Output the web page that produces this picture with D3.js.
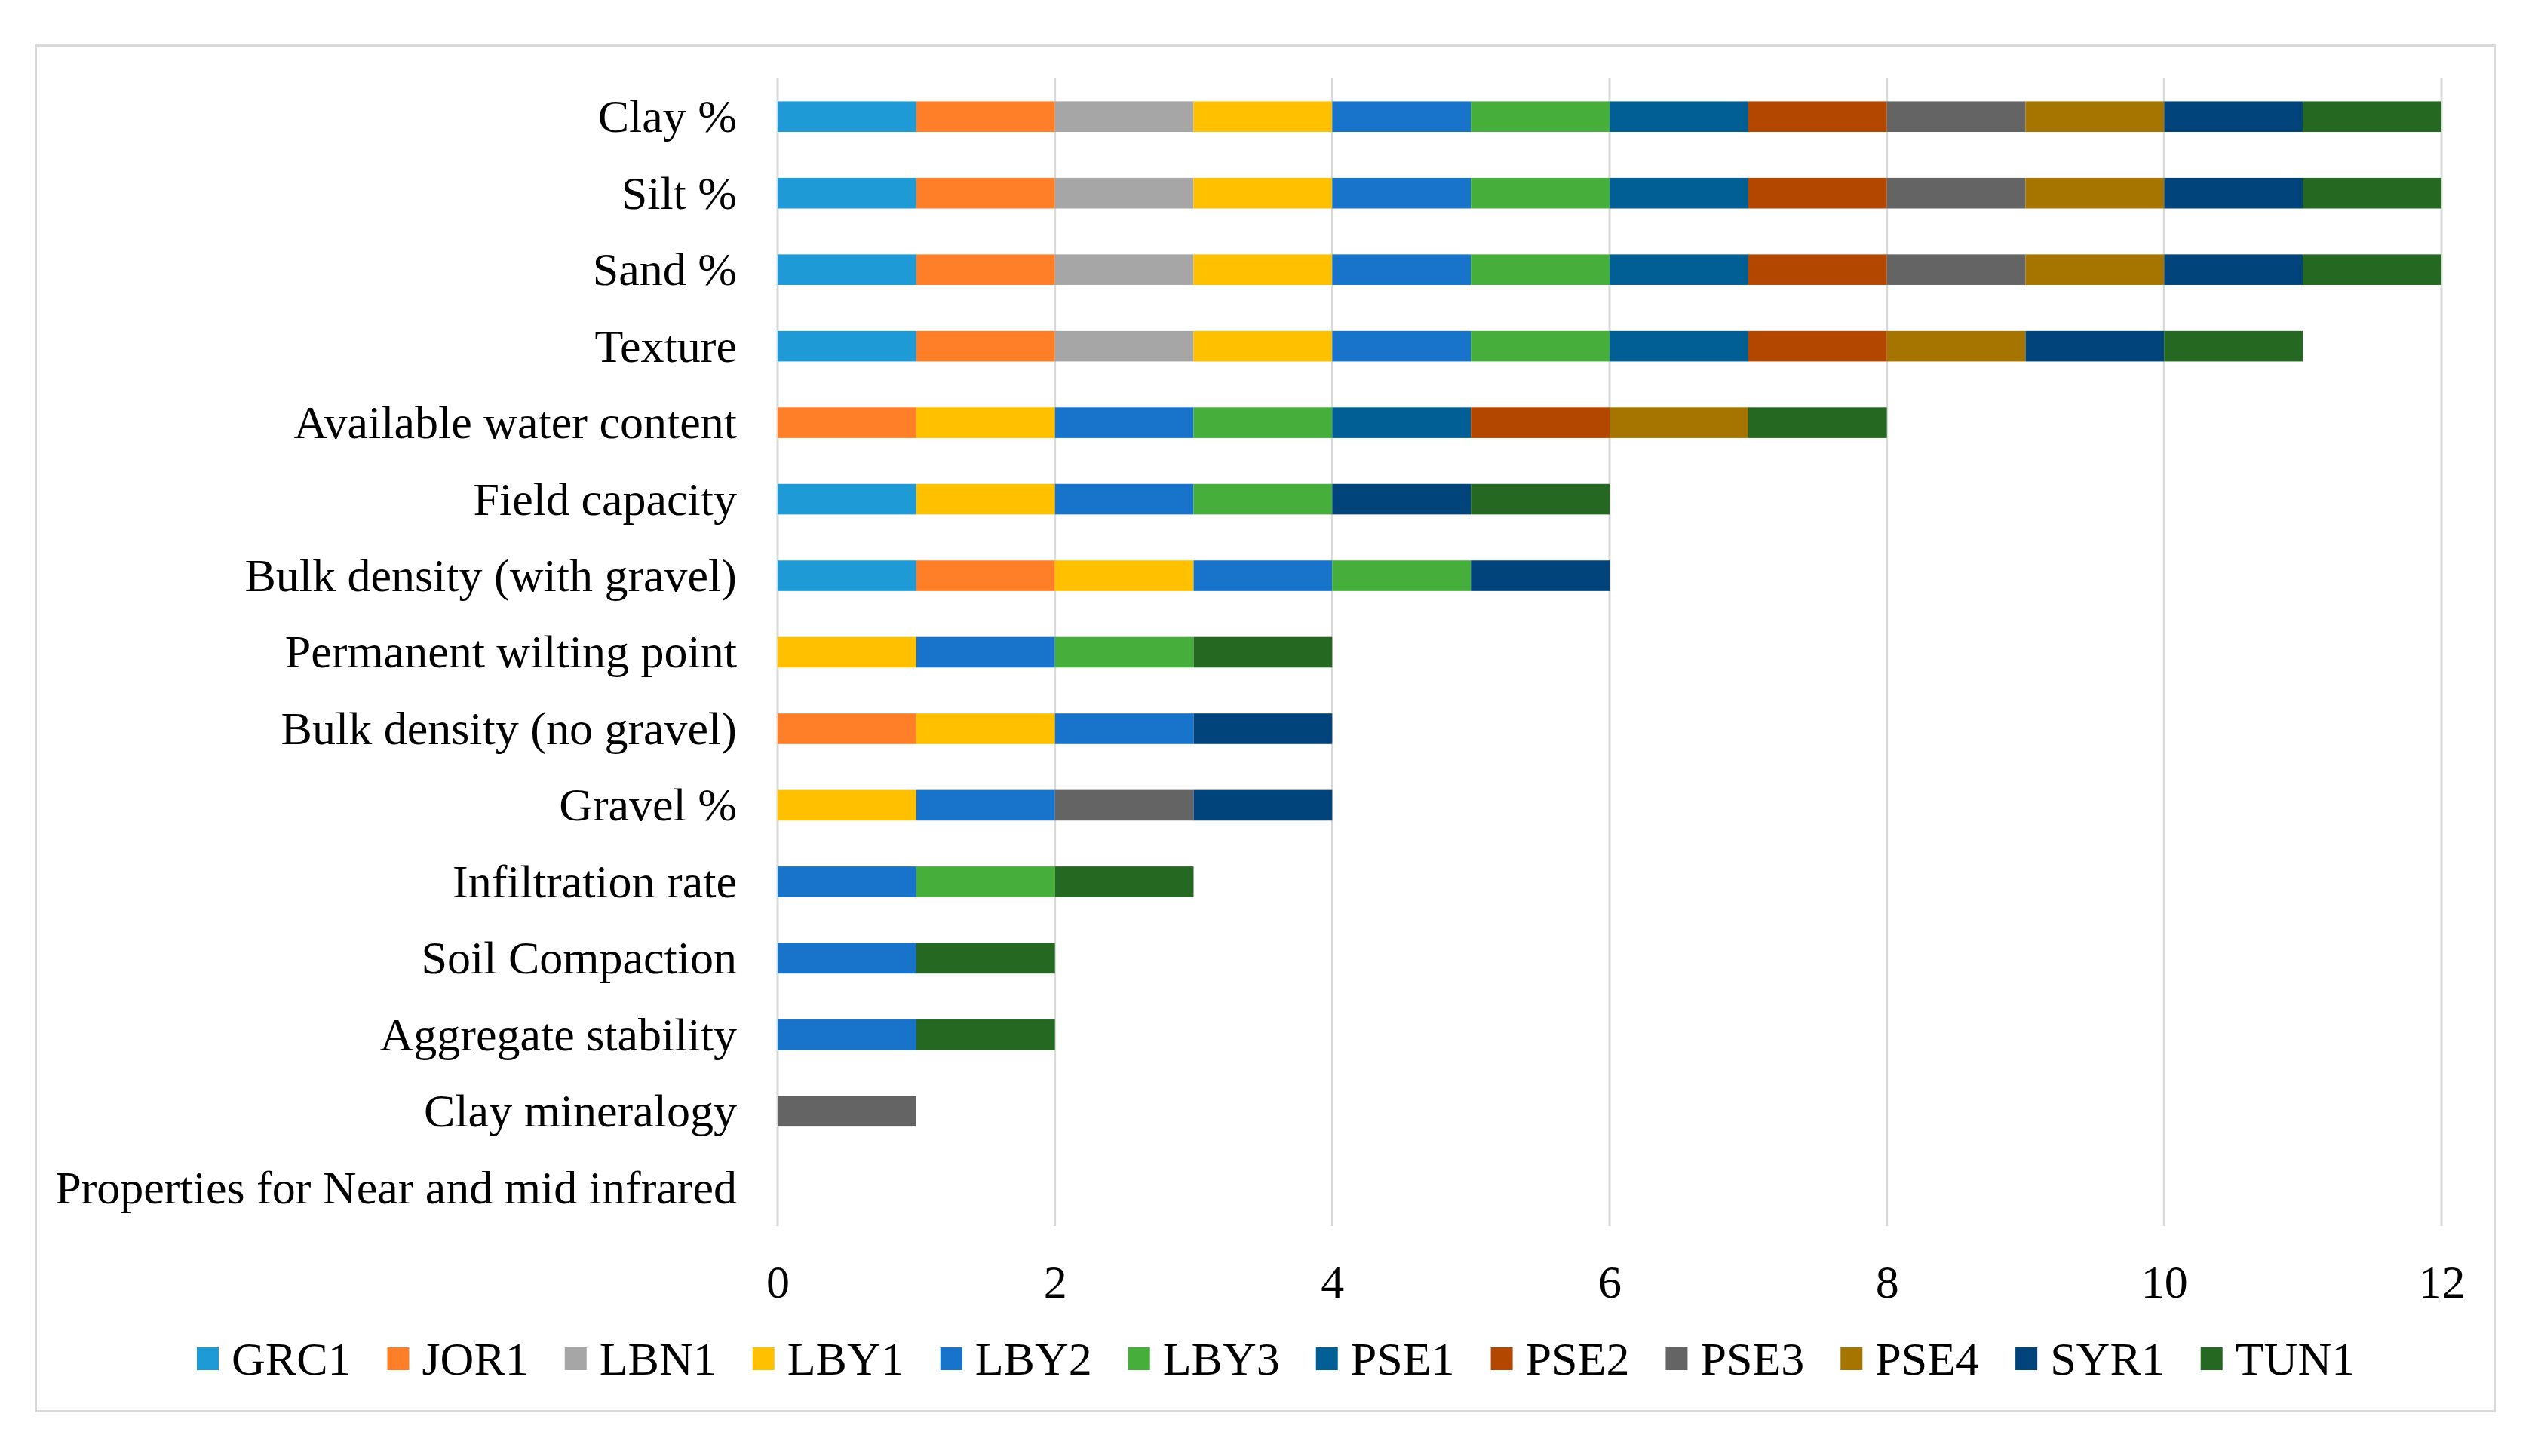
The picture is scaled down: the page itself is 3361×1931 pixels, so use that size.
<!DOCTYPE html>
<html>
<head>
<meta charset="utf-8">
<script src="https://cdn.jsdelivr.net/npm/d3@7"></script>
<style>
  html, body { margin: 0; padding: 0; background: #ffffff; }
  svg { display: block; }
  text { font-family: "Liberation Serif", "Times New Roman", serif; fill: #000; }
</style>
</head>
<body>
<svg id="chart" width="3361" height="1931"></svg>
<script>
// ---- Data ----
const categories = [
  "Clay %", "Silt %", "Sand %", "Texture", "Available water content",
  "Field capacity", "Bulk density (with gravel)", "Permanent wilting point",
  "Bulk density (no gravel)", "Gravel %", "Infiltration rate", "Soil Compaction",
  "Aggregate stability", "Clay mineralogy", "Properties for Near and mid infrared"
];
const seriesNames = ["GRC1","JOR1","LBN1","LBY1","LBY2","LBY3","PSE1","PSE2","PSE3","PSE4","SYR1","TUN1"];
const seriesColors = ["#1e9bd7","#fe7f28","#a6a6a6","#ffc000","#1874cb","#46af3c","#025f95","#b44700","#646464","#a57500","#01447c","#256822"];
const GRC1 = [1,1,1,1,0,1,1,0,0,0,0,0,0,0,0];
const JOR1 = [1,1,1,1,1,0,1,0,1,0,0,0,0,0,0];
const LBN1 = [1,1,1,1,0,0,0,0,0,0,0,0,0,0,0];
const LBY1 = [1,1,1,1,1,1,1,1,1,1,0,0,0,0,0];
const LBY2 = [1,1,1,1,1,1,1,1,1,1,1,1,1,0,0];
const LBY3 = [1,1,1,1,1,1,1,1,0,0,1,0,0,0,0];
const PSE1 = [1,1,1,1,1,0,0,0,0,0,0,0,0,0,0];
const PSE2 = [1,1,1,1,1,0,0,0,0,0,0,0,0,0,0];
const PSE3 = [1,1,1,0,0,0,0,0,0,1,0,0,0,1,0];
const PSE4 = [1,1,1,1,1,0,0,0,0,0,0,0,0,0,0];
const SYR1 = [1,1,1,1,0,1,1,0,1,1,0,0,0,0,0];
const TUN1 = [1,1,1,1,1,1,0,1,0,0,1,1,1,0,0];
const xTicks = [0, 2, 4, 6, 8, 10, 12];

const seriesValues = [GRC1, JOR1, LBN1, LBY1, LBY2, LBY3, PSE1, PSE2, PSE3, PSE4, SYR1, TUN1];

// table for d3.stack
const table = categories.map((c, i) => {
  const row = { category: c };
  seriesNames.forEach((s, j) => { row[s] = seriesValues[j][i]; });
  return row;
});

// ---- Layout ----
const svg = d3.select("#chart");
const plot = { left: 1031, right: 3237, top: 104, bottom: 1626 };

// chart border
svg.append("rect")
  .attr("x", 47.5).attr("y", 60.5)
  .attr("width", 3307 - 47).attr("height", 1871 - 60)
  .attr("fill", "#ffffff").attr("stroke", "#d9d9d9").attr("stroke-width", 3);

const x = d3.scaleLinear().domain([0, 12]).range([plot.left, plot.right]);
const y = d3.scaleBand().domain(categories).range([plot.top, plot.bottom])
  .paddingInner(0.6).paddingOuter(0.3);

// gridlines
svg.append("g").selectAll("line").data(xTicks).join("line")
  .attr("x1", d => x(d)).attr("x2", d => x(d))
  .attr("y1", plot.top).attr("y2", plot.bottom)
  .attr("stroke", "#d9d9d9").attr("stroke-width", 3);

// bars
const stacked = d3.stack().keys(seriesNames)(table);
const color = d3.scaleOrdinal().domain(seriesNames).range(seriesColors);

svg.append("g").selectAll("g").data(stacked).join("g")
  .attr("fill", d => color(d.key))
  .selectAll("rect").data(d => d.filter(p => p[1] - p[0] > 0)).join("rect")
  .attr("x", d => x(d[0]))
  .attr("width", d => x(d[1]) - x(d[0]))
  .attr("y", d => y(d.data.category))
  .attr("height", y.bandwidth());

// category labels (y axis)
const yAxis = d3.axisLeft(y).tickSize(0).tickPadding(0);
const gy = svg.append("g").attr("transform", `translate(977,0)`).call(yAxis);
gy.select(".domain").remove();
gy.selectAll("text")
  .attr("font-family", '"Liberation Serif", "Times New Roman", serif')
  .attr("font-size", 62).attr("fill", "#000").attr("dy", "0.33em");

// x tick labels
const xAxis = d3.axisBottom(x).tickValues(xTicks).tickSize(0).tickPadding(0).tickFormat(d3.format("d"));
const gx = svg.append("g").attr("transform", `translate(0,1721)`).call(xAxis);
gx.select(".domain").remove();
gx.selectAll("text")
  .attr("font-family", '"Liberation Serif", "Times New Roman", serif')
  .attr("font-size", 62).attr("fill", "#000").attr("dy", 0).attr("y", 0);

// legend
const legend = svg.append("g");
let lx = 261;
const ly = 1802;
seriesNames.forEach((s, i) => {
  const g = legend.append("g");
  g.append("rect").attr("x", lx).attr("y", ly - 15).attr("width", 29).attr("height", 30)
    .attr("fill", seriesColors[i]);
  const t = g.append("text").attr("x", lx + 46).attr("y", ly + 21)
    .attr("font-size", 62).text(s);
  const w = t.node().getComputedTextLength();
  lx += 46 + w + 48;
});
</script>
</body>
</html>
